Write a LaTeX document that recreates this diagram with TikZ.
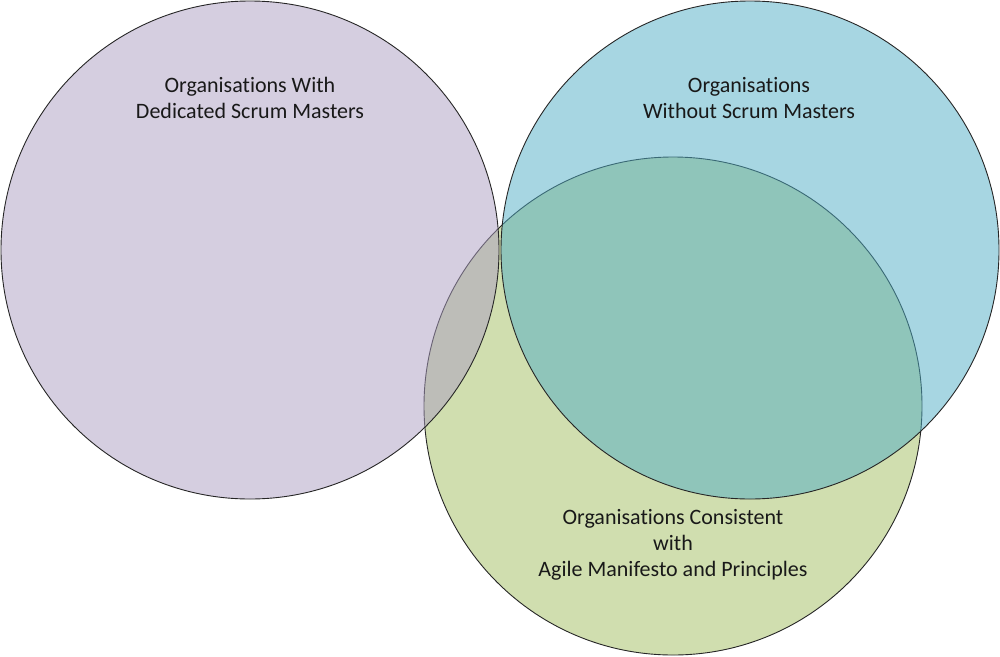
\documentclass[tikz,border=0pt]{standalone}
\usepackage{fontspec}
\setmainfont[Ligatures=NoCommon]{Carlito}
\usepackage{tikz}

\definecolor{setgreen}{RGB}{208,222,175}
\definecolor{setpurple}{RGB}{171,157,193}
\definecolor{setblue}{RGB}{79,173,197}

\begin{document}
\begin{tikzpicture}[x=1pt, y=-1pt,
  setcircle/.style={draw=black!85, line width=0.9pt},
  setlabel/.style={align=center, text=black!90, font=\fontsize{22}{26}\selectfont}]
\useasboundingbox (0,0) rectangle (1000,656);
% sets
\draw[setcircle, fill=setgreen] (673,406) circle[radius=249pt];
\draw[setcircle, fill=setpurple, fill opacity=0.5] (250,250) circle[radius=249pt];
\draw[setcircle, fill=setblue, fill opacity=0.5] (750,250) circle[radius=249pt];
% labels
\node[setlabel] (with) at (250,98) {Organisations With\\Dedicated Scrum Masters};
\node[setlabel] (without) at (749,98) {Organisations\\Without Scrum Masters};
\node[setlabel] (agile) at (673,545) {Organisations Consistent\\with\\Agile Manifesto and Principles};
\end{tikzpicture}
\end{document}
